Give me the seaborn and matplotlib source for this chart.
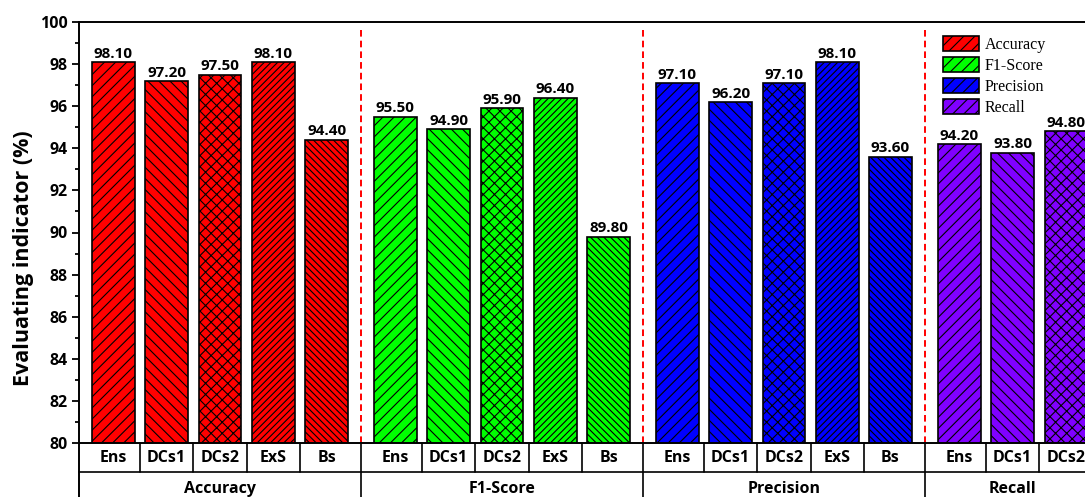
import numpy as np
import pandas as pd
import matplotlib
matplotlib.use("Agg")
import matplotlib.pyplot as plt
import matplotlib.transforms as mtransforms
from matplotlib.patches import Patch
from matplotlib.ticker import MultipleLocator
import seaborn as sns

# data
metrics = ["Accuracy", "F1-Score", "Precision", "Recall"]
methods = ["Ens", "DCs1", "DCs2", "ExS", "Bs"]
accuracy = [98.10, 97.20, 97.50, 98.10, 94.40]
f1_score = [95.50, 94.90, 95.90, 96.40, 89.80]
precision = [97.10, 96.20, 97.10, 98.10, 93.60]
recall = [94.20, 93.80, 94.80]  # the rest of the group is cut off in the reference

colors = ["#FF0000", "#00FF00", "#0000FF", "#8000FF"]
hatches = ["///", "\\\\\\", "xxx", "/////", "\\\\\\\\\\"]

sns.set_style("ticks")
plt.rcParams["font.family"] = ["Open Sans", "DejaVu Sans"]
plt.rcParams["font.weight"] = "bold"
plt.rcParams["hatch.linewidth"] = 0.8
plt.rcParams["hatch.color"] = "black"
for k in ["text.color", "axes.labelcolor", "xtick.color", "ytick.color"]:
    plt.rcParams[k] = "black"

G = 5.29          # width of one group in bar units
pad = (G - 4) / 2
unit = 53.3       # pixels per bar unit

rows = []
for g, (m, vals) in enumerate(zip(metrics, [accuracy, f1_score, precision, recall])):
    for j, v in enumerate(vals):
        rows.append({"metric": m, "method": methods[j], "j": j, "pos": g * G + j, "value": v})
df = pd.DataFrame(rows)

x_right = 3 * G + len(recall) - 1 + pad

fig = plt.figure(figsize=(10.85, 4.97), dpi=100)
W, H = 1085, 497
ax = fig.add_axes([79 / W, (H - 443) / H, (x_right + pad) * unit / W, 421 / H])

sns.barplot(data=df, x="pos", y="value", hue="metric", palette=colors,
            native_scale=True, dodge=False, width=0.8, edgecolor="black",
            linewidth=1.2, legend=False, saturation=1, ax=ax, err_kws={"linewidth": 0})

# hatches per method
for cont, m in zip(ax.containers, metrics):
    sub = df[df["metric"] == m]
    for bar, j in zip(cont, sub["j"]):
        bar.set_hatch(hatches[j])
    ax.bar_label(cont, fmt="%.2f", padding=1, fontsize=11, fontweight="bold")

ax.set_xlim(-pad, x_right)
ax.set_ylim(80, 100)
ax.yaxis.set_major_locator(MultipleLocator(2))
ax.yaxis.set_minor_locator(MultipleLocator(1))
ax.tick_params(axis="y", which="major", length=5, width=1.3, labelsize=11.5, pad=3)
ax.tick_params(axis="y", which="minor", length=3, width=1.3)
for lab in ax.get_yticklabels():
    lab.set_fontweight("bold")
ax.set_xticks([])
ax.set_xlabel("")
ax.set_ylabel("")
for s in ax.spines.values():
    s.set_linewidth(1.4)
    s.set_color("black")

fig.text(24 / W, 1 - 258 / H, "Evaluating indicator (%)", rotation=90,
         ha="center", va="center", fontsize=15.5, fontweight="bold")

# group separators
bounds = [g * G - pad for g in range(1, 4)]
for b in bounds:
    ax.axvline(b, ymin=0, ymax=0.986, color="#FF0000", lw=1.4,
               linestyle=(0, (3.4, 2.1)), zorder=0)

# category table under the axis
trans = mtransforms.blended_transform_factory(ax.transData, ax.transAxes)
row1 = -29 / 421
row2 = -70 / 421
ax.plot([-pad, x_right], [row1, row1], color="black", lw=1.2,
        transform=trans, clip_on=False)
ax.plot([-pad, -pad], [0, row2], color="black", lw=1.4, transform=trans, clip_on=False)
counts = [len(accuracy), len(f1_score), len(precision), len(recall)]
for g in range(4):
    start = g * G
    n = counts[g]
    for j in range(n - 1):
        xb = start + j + 0.5
        ax.plot([xb, xb], [0, row1], color="black", lw=1.2, transform=trans, clip_on=False)
    for j in range(n):
        ax.text(start + j, -15 / 421, methods[j], transform=trans, ha="center", va="center",
                fontsize=11.5, fontweight="bold")
    ax.text(start + (n - 1) / 2, -46 / 421, metrics[g], transform=trans, ha="center",
            va="center", fontsize=11.5, fontweight="bold")
for b in bounds:
    ax.plot([b, b], [0, row2], color="black", lw=1.2, transform=trans, clip_on=False)

handles = [Patch(facecolor=c, edgecolor="black", hatch="///", linewidth=1.2) for c in colors]
leg = fig.legend(handles, metrics, loc="upper left", bbox_to_anchor=(943 / W, 1 - 36 / H),
                 frameon=False, borderpad=0, borderaxespad=0, handlelength=2.25,
                 handleheight=1.06, labelspacing=0.25, handletextpad=0.35,
                 prop={"family": "Liberation Serif", "size": 11.5, "weight": "normal"})

fig.savefig("out.png", dpi=100)
